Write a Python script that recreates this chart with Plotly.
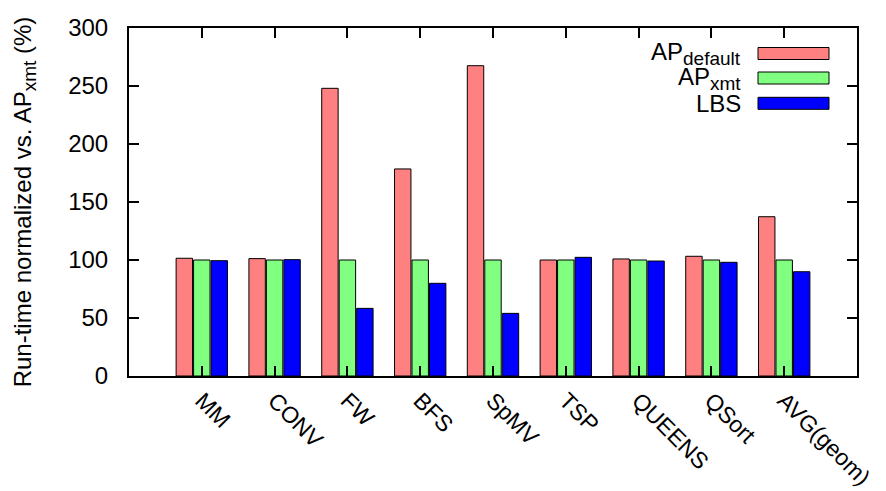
import plotly.graph_objects as go

categories = ["MM", "CONV", "FW", "BFS", "SpMV", "TSP", "QUEENS", "QSort", "AVG(geom)"]
series_names = ["AP<sub>default</sub>", "AP<sub>xmt</sub>", "LBS"]
ap_default = [101.5, 101.2, 248.0, 178.5, 267.5, 100.0, 100.9, 103.2, 137.3]
ap_xmt = [100.0, 100.0, 100.0, 100.0, 100.0, 100.0, 100.0, 100.0, 100.0]
lbs = [99.4, 100.3, 58.3, 79.9, 54.0, 102.3, 99.1, 98.0, 89.9]
colors = ["#ff8080", "#80ff80", "#0000ff"]
y_ticks = [0, 50, 100, 150, 200, 250, 300]

FONT = "Liberation Sans, Arial, sans-serif"
x_idx = list(range(len(categories)))


def big_sub(label, px):
    return label.replace("<sub>", "<sub><span style='font-size:%dpx'>" % px).replace("</sub>", "</span></sub>")


fig = go.Figure()
for name, vals, col in zip(series_names, [ap_default, ap_xmt, lbs], colors):
    fig.add_trace(go.Bar(
        x=x_idx, y=vals, name=name, marker=dict(color=col, line=dict(color="black", width=1)),
        showlegend=False,
    ))

FW_, FH_ = 886, 491
L, R, T, B = 129, 857, 28, 376
W, H = R - L, B - T
rows_y = [53.5, 78.0, 103.3]
for name, col, yc in zip(series_names, colors, rows_y):
    py = (B - yc) / H
    fig.add_annotation(xref="paper", yref="paper", x=(743 - L) / W, y=py,
                       xanchor="right", yanchor="middle", text=big_sub(name, 19), showarrow=False,
                       font=dict(family=FONT, size=24, color="black"))
    fig.add_shape(type="rect", xref="paper", yref="paper",
                  x0=(758 - L) / W, x1=(829 - L) / W,
                  y0=py - 6 / H, y1=py + 6 / H,
                  fillcolor=col, line=dict(color="black", width=1))

fig.update_layout(
    width=FW_, height=FH_,
    margin=dict(l=L, r=FW_ - R, t=T, b=FH_ - B, autoexpand=False),
    paper_bgcolor="white", plot_bgcolor="white",
    barmode="group", bargap=0.28, bargroupgap=0.06,
    font=dict(family=FONT, size=24, color="black"),
)
fig.update_xaxes(
    range=[-1, 9], tickmode="array", tickvals=x_idx, ticktext=categories,
    tickangle=45, ticks="inside", ticklen=10, tickwidth=1.5, tickcolor="black",
    showline=True, linecolor="black", linewidth=2, mirror="ticks",
    showgrid=False, zeroline=False, tickfont=dict(size=23),
    automargin=False, ticklabeloverflow="allow", ticklabelstandoff=0,
)
fig.update_yaxes(
    range=[0, 300], tickmode="array", tickvals=y_ticks,
    ticks="inside", ticklen=10, tickwidth=1.5, tickcolor="black",
    showline=True, linecolor="black", linewidth=2, mirror="ticks",
    showgrid=False, zeroline=False, tickfont=dict(size=24),
    ticklabelstandoff=14, automargin=False,
    title=dict(text=big_sub("Run-time normalized vs. AP<sub>xmt</sub> (%)", 19),
               font=dict(size=24), standoff=30),
)
fig.write_html(
    "out.html",
    config={"displayModeBar": False},
    post_script="document.body.style.margin='0';document.body.style.overflow='hidden';",
)
